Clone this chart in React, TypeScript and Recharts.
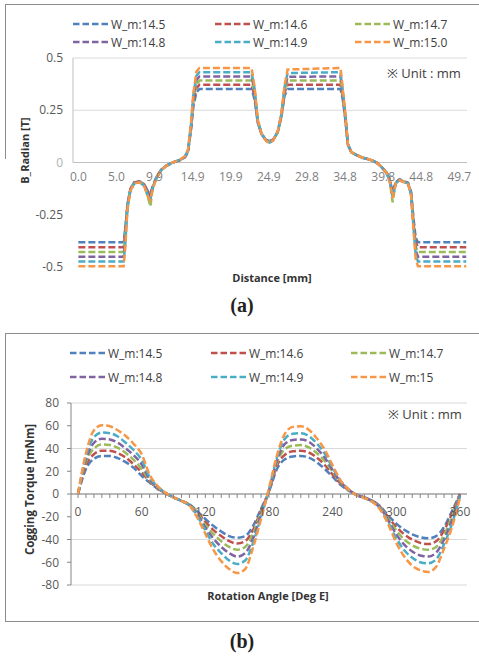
import React from 'react';
import { LineChart, Line, XAxis, YAxis, CartesianGrid, ReferenceLine } from 'recharts';

// series labels and colours (Excel 2010 palette)
const NAMES_A = ['W_m:14.5', 'W_m:14.6', 'W_m:14.7', 'W_m:14.8', 'W_m:14.9', 'W_m:15.0'];
const NAMES_B = ['W_m:14.5', 'W_m:14.6', 'W_m:14.7', 'W_m:14.8', 'W_m:14.9', 'W_m:15'];
const COLORS = ['#4F81BD', '#C0504D', '#9BBB59', '#8064A2', '#4BACC6', '#F79646'];

// (a) B_Radian vs distance
const DISTANCE = [
  0, 5.9, 6.1, 6.4, 6.8, 7.3, 8.0, 8.6, 9.1, 9.4, 9.7, 10.2, 10.8, 11.5, 12.3, 13.2, 13.9, 14.3, 14.7, 15.0, 15.4, 15.8,
  22.6, 23.0, 23.4, 23.9, 24.5, 24.95, 25.4, 26.0, 26.5, 26.9, 27.3, 34.2,
  34.5, 34.85, 35.15, 35.6, 36.2, 37.1, 38.0, 38.9, 39.5, 40.2, 40.6, 41.0, 41.4, 41.9, 42.3, 43.0, 43.4, 43.7, 44.0, 44.3, 50.6,
];
const B_145 = [
  -0.382, -0.382, -0.32, -0.2, -0.125, -0.095, -0.09, -0.105, -0.14, -0.15, -0.115, -0.07, -0.035, -0.015, 0.0, 0.01, 0.025, 0.05, 0.16, 0.27, 0.335, 0.352,
  0.352, 0.3, 0.19, 0.135, 0.108, 0.102, 0.11, 0.143, 0.22, 0.32, 0.352, 0.352,
  0.3, 0.2, 0.085, 0.05, 0.037, 0.022, 0.014, 0.0, -0.02, -0.048, -0.08, -0.14, -0.095, -0.08, -0.088, -0.097, -0.14, -0.26, -0.36, -0.382, -0.382,
];
const B_146 = [
  -0.405, -0.405, -0.34, -0.205, -0.125, -0.095, -0.09, -0.105, -0.145, -0.16, -0.115, -0.07, -0.035, -0.015, 0.0, 0.01, 0.026, 0.052, 0.165, 0.285, 0.355, 0.372,
  0.372, 0.315, 0.195, 0.136, 0.107, 0.1, 0.109, 0.144, 0.225, 0.335, 0.372, 0.372,
  0.31, 0.205, 0.087, 0.05, 0.037, 0.022, 0.014, 0.0, -0.02, -0.048, -0.081, -0.15, -0.096, -0.081, -0.089, -0.098, -0.145, -0.27, -0.38, -0.405, -0.405,
];
const B_147 = [
  -0.428, -0.428, -0.36, -0.21, -0.128, -0.097, -0.092, -0.108, -0.17, -0.21, -0.12, -0.07, -0.035, -0.015, 0.0, 0.01, 0.027, 0.054, 0.17, 0.3, 0.375, 0.392,
  0.392, 0.33, 0.198, 0.137, 0.106, 0.099, 0.108, 0.145, 0.228, 0.345, 0.392, 0.392,
  0.32, 0.21, 0.088, 0.05, 0.037, 0.022, 0.014, 0.0, -0.02, -0.049, -0.082, -0.19, -0.098, -0.082, -0.09, -0.099, -0.148, -0.28, -0.4, -0.428, -0.428,
];
const B_148 = [
  -0.451, -0.451, -0.38, -0.215, -0.13, -0.098, -0.093, -0.11, -0.155, -0.17, -0.12, -0.072, -0.036, -0.015, 0.0, 0.011, 0.028, 0.056, 0.175, 0.31, 0.395, 0.412,
  0.412, 0.34, 0.2, 0.137, 0.105, 0.097, 0.107, 0.146, 0.232, 0.355, 0.41, 0.412,
  0.33, 0.215, 0.089, 0.05, 0.038, 0.023, 0.015, 0.0, -0.02, -0.049, -0.083, -0.16, -0.1, -0.083, -0.09, -0.1, -0.15, -0.29, -0.42, -0.451, -0.451,
];
const B_149 = [
  -0.474, -0.474, -0.4, -0.22, -0.132, -0.1, -0.094, -0.112, -0.16, -0.175, -0.122, -0.073, -0.037, -0.016, 0.0, 0.012, 0.029, 0.058, 0.18, 0.32, 0.415, 0.432,
  0.432, 0.35, 0.203, 0.138, 0.104, 0.095, 0.106, 0.147, 0.236, 0.362, 0.428, 0.432,
  0.34, 0.222, 0.09, 0.05, 0.038, 0.023, 0.015, 0.0, -0.02, -0.05, -0.084, -0.165, -0.1, -0.084, -0.091, -0.1, -0.152, -0.3, -0.44, -0.474, -0.474,
];
const B_150 = [
  -0.497, -0.497, -0.42, -0.225, -0.135, -0.1, -0.095, -0.115, -0.165, -0.18, -0.125, -0.075, -0.038, -0.016, 0.0, 0.012, 0.03, 0.06, 0.19, 0.33, 0.435, 0.452,
  0.452, 0.36, 0.205, 0.138, 0.103, 0.093, 0.105, 0.148, 0.24, 0.37, 0.445, 0.452,
  0.35, 0.23, 0.09, 0.05, 0.038, 0.023, 0.015, 0.0, -0.02, -0.05, -0.085, -0.17, -0.1, -0.085, -0.092, -0.1, -0.155, -0.31, -0.46, -0.497, -0.497,
];
const DIST_TICKS = [0, 4.97, 9.94, 14.91, 19.88, 24.85, 29.82, 34.79, 39.76, 44.73, 49.7];
const DIST_TICK_LABELS = ['0.0', '5.0', '9.9', '14.9', '19.9', '24.9', '29.8', '34.8', '39.8', '44.8', '49.7'];
const B_TICKS = [-0.5, -0.25, 0, 0.25, 0.5];

// (b) cogging torque vs rotation angle
const ANGLE = [
  0, 7.5, 15, 22.5, 30, 37.5, 45, 52.5, 60, 67.5, 75, 82.5, 90, 97.5, 105, 112.5, 120, 127.5, 135, 142.5, 150, 157.5, 165, 172.5, 180,
  187.5, 195, 202.5, 210, 217.5, 225, 232.5, 240, 247.5, 255, 262.5, 270, 277.5, 285, 292.5, 300, 307.5, 315, 322.5, 330, 337.5, 345, 352.5, 360,
];
const T_145 = [
  0, 22, 31, 33.5, 33.5, 31.5, 28, 23, 16, 10, 4.5, 0.5, -3, -6, -9, -15, -22, -28, -33, -37, -38.5, -37, -28, -13, 2,
  22, 30.5, 33, 33.5, 32, 28, 22, 15, 8, 3, -0.5, -3, -6, -11, -19, -26, -31.5, -35.5, -38, -39, -37, -29, -15, 0,
];
const T_146 = [
  0, 25, 35, 38, 38, 36, 32, 26, 19, 11, 5, 0.5, -3, -6, -9.5, -16, -24.5, -31.5, -37, -41.5, -43.5, -41.5, -31.5, -14.5, 2.5,
  25, 34.5, 37.5, 38, 36.5, 32, 25.5, 17, 9, 3.5, -0.5, -3, -6, -11.5, -20.5, -29, -35.5, -40, -43, -44, -41.5, -32, -17, 0,
];
const T_147 = [
  0, 28, 40, 43.5, 43, 40.5, 36, 30, 22, 12, 5.5, 1, -3, -6, -9.5, -17, -27, -35, -41.5, -46.5, -49, -46.5, -35, -16, 3,
  27.5, 39.5, 42.5, 43, 41, 36, 29, 19.5, 10, 3.5, -1, -3.5, -6.5, -12, -22, -32, -40, -45, -48, -49, -46.5, -36, -20, -1,
];
const T_148 = [
  0, 30, 45, 48.5, 48, 45, 40, 34, 26, 13, 6, 1, -3, -6, -10, -18, -29.5, -39, -46.5, -52, -55, -52, -39, -18, 3.5,
  29.5, 44, 47.5, 48, 46, 40, 32, 21, 10.5, 4, -1, -3.5, -6.5, -12.5, -23.5, -35.5, -44.5, -50.5, -54, -55, -51.5, -40, -23, -1,
];
const T_149 = [
  0, 33, 50, 54, 53.5, 50.5, 45, 38.5, 30, 15, 6.5, 1, -3, -6, -10, -19.5, -32, -44, -52, -58.5, -61.5, -58.5, -43, -20, 4,
  32, 48.5, 53, 53.5, 51, 44.5, 35.5, 23, 11.5, 4, -1, -3.5, -7, -13, -25, -39, -49.5, -56, -60, -61, -57.5, -44, -26, -2,
];
const T_150 = [
  0, 36, 56, 60.5, 59.5, 56, 51, 44, 35, 17, 7, 1, -3, -6, -10, -21, -35, -49, -59, -66, -69.5, -66, -47, -22, 5,
  34, 53, 59, 59.5, 56.5, 49, 39, 25, 12, 4, -1, -3.5, -7, -14, -27, -43, -55, -63, -67, -68.5, -64, -48, -29, -3,
];
const ANGLE_TICKS = [
  0, 7.5, 15, 22.5, 30, 37.5, 45, 52.5, 60, 67.5, 75, 82.5, 90, 97.5, 105, 112.5, 120, 127.5, 135, 142.5, 150, 157.5, 165, 172.5, 180,
  187.5, 195, 202.5, 210, 217.5, 225, 232.5, 240, 247.5, 255, 262.5, 270, 277.5, 285, 292.5, 300, 307.5, 315, 322.5, 330, 337.5, 345, 352.5, 360,
];
const ANGLE_LABELS = [0, 60, 120, 180, 240, 300, 360];
const T_TICKS = [-80, -60, -40, -20, 0, 20, 40, 60, 80];

const FONT = '"Open Sans", "Noto Sans", sans-serif';
const A_PLOT_H = 209;
const B_PLOT_H = 182;

const buildRows = (xs: number[], series: number[][]) =>
  xs.map((x, i) => {
    const row: any = { x };
    series.forEach((s, j) => {
      row['s' + j] = s[i];
    });
    return row;
  });

const dataA = buildRows(DISTANCE, [B_145, B_146, B_147, B_148, B_149, B_150]);
const dataB = buildRows(ANGLE, [T_145, T_146, T_147, T_148, T_149, T_150]);

const DistTick = (props: any) => {
  const { x, y, payload } = props;
  const idx = DIST_TICKS.indexOf(payload.value);
  const zeroY = y - A_PLOT_H / 2;
  return (
    <text x={x} y={zeroY + 18} textAnchor="middle" fill="#7f7f7f" fontSize={12}>
      {DIST_TICK_LABELS[idx]}
    </text>
  );
};

const BTick = (props: any) => {
  const { x, y, payload } = props;
  return (
    <text x={x} y={y + 4} textAnchor="end" fill={payload.value === 0 ? '#b0b0b0' : '#595959'} fontSize={12}>
      {payload.value}
    </text>
  );
};

const AngleTick = (props: any) => {
  const { x, y, payload } = props;
  const zeroY = y - B_PLOT_H / 2;
  const showLabel = ANGLE_LABELS.includes(payload.value);
  return (
    <g>
      <line x1={x} x2={x} y1={zeroY} y2={zeroY + 4} stroke="#868686" />
      {showLabel && (
        <text x={x} y={zeroY + 22} textAnchor="middle" fill="#595959" fontSize={12}>
          {payload.value}
        </text>
      )}
    </g>
  );
};

const LegendBlock: React.FC<{ names: string[]; cols: number[]; rows: number[] }> = ({ names, cols, rows }) => (
  <>
    {names.map((name, i) => (
      <div
        key={name + i}
        style={{
          position: 'absolute',
          left: cols[i % 3],
          top: rows[Math.floor(i / 3)] - 9,
          height: 18,
          display: 'flex',
          alignItems: 'center',
          fontSize: 12,
          color: '#404040',
          whiteSpace: 'nowrap',
        }}
      >
        <svg width={37} height={6} style={{ display: 'block' }}>
          <line x1={0} x2={37} y1={3} y2={3} stroke={COLORS[i]} strokeWidth={2.5} strokeDasharray="6.5 3" />
        </svg>
        <span style={{ marginLeft: 1 }}>{name}</span>
      </div>
    ))}
  </>
);

const abs = (left: number, top: number, extra: React.CSSProperties = {}): React.CSSProperties => ({
  position: 'absolute',
  left,
  top,
  ...extra,
});

export default function App() {
  return (
    <div
      style={{
        position: 'absolute',
        left: 0,
        top: 0,
        width: 479,
        height: 656,
        overflow: 'hidden',
        background: '#fff',
        fontFamily: FONT,
      }}
    >
      {/* frame (a) */}
      <div style={abs(5, 4, { width: 480, height: 154, borderTop: '1px solid #8c8c8c', borderLeft: '1px solid #8c8c8c' })} />
      {/* frame (b) */}
      <div style={abs(5, 333, { width: 480, height: 287, border: '1px solid #8c8c8c' })} />

      {/* chart (a) */}
      <div style={abs(0, 0)}>
        <LineChart width={479} height={300} data={dataA} margin={{ top: 58, right: 12, left: 28, bottom: 3 }}>
          <ReferenceLine y={0.5} stroke="#d9d9d9" />
          <ReferenceLine y={0.25} stroke="#d9d9d9" />
          <ReferenceLine y={0} stroke="#bfbfbf" />
          <ReferenceLine segment={[{ x: -0.7, y: 0 }, { x: -0.7, y: 0.5 }]} stroke="#bfbfbf" />
          <XAxis
            dataKey="x"
            type="number"
            domain={[-0.7, 50.7]}
            ticks={DIST_TICKS}
            interval={0}
            height={30}
            axisLine={false}
            tickLine={false}
            tickSize={0}
            tickMargin={0}
            tick={<DistTick />}
          />
          <YAxis
            type="number"
            domain={[-0.5, 0.5]}
            ticks={B_TICKS}
            width={45}
            axisLine={false}
            tickLine={false}
            tickSize={0}
            tickMargin={10}
            tick={<BTick />}
          />
          {NAMES_A.map((n, i) => (
            <Line
              key={n}
              dataKey={'s' + i}
              name={n}
              type="linear"
              stroke={COLORS[i]}
              strokeWidth={2.5}
              strokeDasharray="7 3"
              dot={false}
              isAnimationActive={false}
            />
          ))}
        </LineChart>
      </div>
      <LegendBlock names={NAMES_A} cols={[73, 215, 355]} rows={[24, 42]} />
      <div style={abs(387, 64, { fontSize: 13, color: '#404040' })}>※ Unit : mm</div>
      <div style={abs(192, 270, { width: 160, textAlign: 'center', fontSize: 11, fontWeight: 700, color: '#333' })}>
        Distance [mm]
      </div>
      <div
        style={abs(-56, 143, {
          width: 160,
          textAlign: 'center',
          fontSize: 11,
          fontWeight: 700,
          color: '#333',
          transform: 'rotate(-90deg)',
        })}
      >
        B_Radian [T]
      </div>
      <div style={abs(192, 294, { width: 100, textAlign: 'center', fontFamily: '"Liberation Serif", serif', fontWeight: 700, fontSize: 20, color: '#231f20' })}>
        (a)
      </div>

      {/* chart (b) */}
      <div style={abs(0, 333)}>
        <LineChart width={479} height={288} data={dataB} margin={{ top: 70, right: 12, left: 26, bottom: 6 }}>
          <CartesianGrid vertical={false} stroke="#d9d9d9" />
          <ReferenceLine y={0} stroke="#868686" />
          <XAxis
            dataKey="x"
            type="number"
            domain={[-6.6, 366.6]}
            ticks={ANGLE_TICKS}
            interval={0}
            height={30}
            axisLine={false}
            tickLine={false}
            tickSize={0}
            tickMargin={0}
            tick={<AngleTick />}
          />
          <YAxis
            type="number"
            domain={[-80, 80]}
            ticks={T_TICKS}
            width={45}
            axisLine={{ stroke: '#868686' }}
            tickLine={{ stroke: '#868686' }}
            tickSize={4}
            tickMargin={8}
            tick={{ fill: '#595959', fontSize: 12 }}
          />
          {NAMES_B.map((n, i) => (
            <Line
              key={n}
              dataKey={'s' + i}
              name={n}
              type="monotone"
              stroke={COLORS[i]}
              strokeWidth={2.5}
              strokeDasharray="7 3"
              dot={false}
              isAnimationActive={false}
            />
          ))}
        </LineChart>
      </div>
      <LegendBlock names={NAMES_B} cols={[70, 211, 351]} rows={[353, 377]} />
      <div style={abs(388, 405, { fontSize: 13, color: '#404040' })}>※ Unit : mm</div>
      <div style={abs(168, 588, { width: 200, textAlign: 'center', fontSize: 11, fontWeight: 700, color: '#333' })}>
        Rotation Angle [Deg E]
      </div>
      <div
        style={abs(-71, 482, {
          width: 200,
          textAlign: 'center',
          fontSize: 11.5,
          fontWeight: 700,
          color: '#333',
          transform: 'rotate(-90deg)',
        })}
      >
        Cogging Torque [mNm]
      </div>
      <div style={abs(192, 630, { width: 100, textAlign: 'center', fontFamily: '"Liberation Serif", serif', fontWeight: 700, fontSize: 20, color: '#231f20' })}>
        (b)
      </div>
    </div>
  );
}
